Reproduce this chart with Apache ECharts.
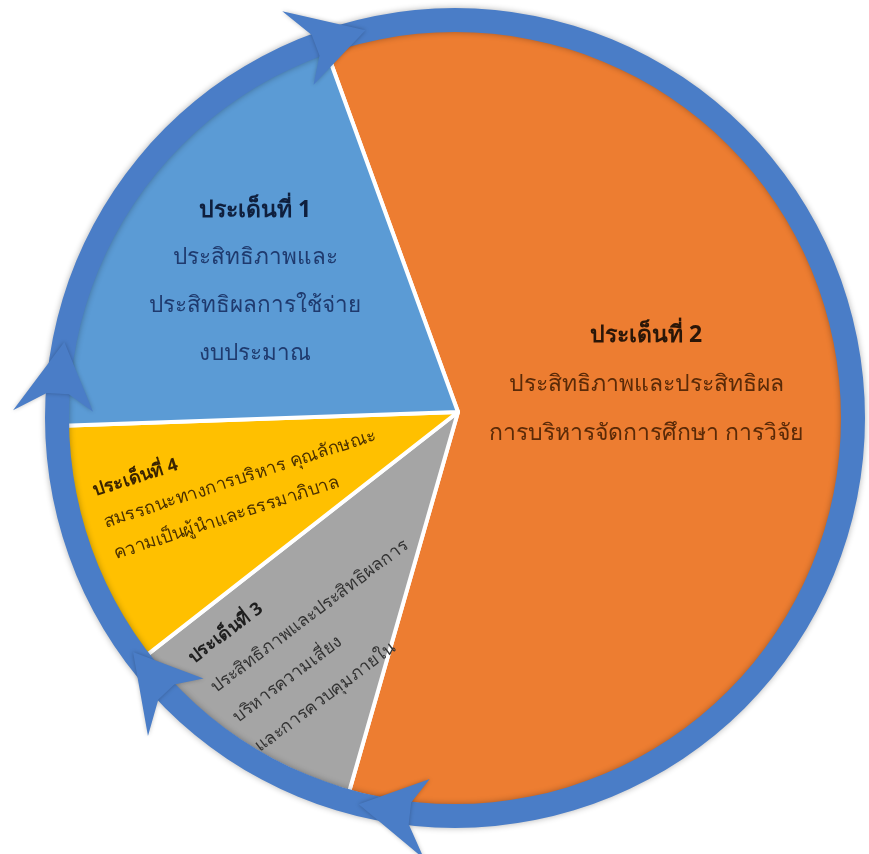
<!DOCTYPE html>
<html><head><meta charset="utf-8">
<script src="https://cdn.jsdelivr.net/npm/echarts/dist/echarts.min.js"></script>
<style>html,body{margin:0;padding:0;background:#fff}#c{width:869px;height:854px}</style>
</head><body><div id="c"></div>
<script>
// Data (clockwise from the top boundary of the orange slice)
const titles = ['ประเด็นที่ 2', 'ประเด็นที่ 3', 'ประเด็นที่ 4', 'ประเด็นที่ 1'];
const descriptions = [
  ['ประสิทธิภาพและประสิทธิผล', 'การบริหารจัดการศึกษา การวิจัย'],
  ['ประสิทธิภาพและประสิทธิผลการ', 'บริหารความเสี่ยง', 'และการควบคุมภายใน'],
  ['สมรรถนะทางการบริหาร คุณลักษณะ', 'ความเป็นผู้นำและธรรมาภิบาล'],
  ['ประสิทธิภาพและ', 'ประสิทธิผลการใช้จ่าย', 'งบประมาณ']
];
const values = [60, 10, 10, 20];
const colors = ['#ed7d31', '#a5a5a5', '#ffc000', '#5b9bd5'];
const titleColors = ['#2a1608', '#1e1e1e', '#3a2400', '#0f1f3d'];
const textColors = ['#5a2a08', '#333333', '#4a3000', '#1f3a6e'];

// label placement (styling, not data)
const layouts = [
  {x: 646, y: 384, rotate: 0, align: 'center', fs: 23, tfs: 23, lh: 49},
  {x: 224, y: 704, rotate: 37, align: 'left', fs: 17.5, tfs: 18, lh: 37},
  {x: 104, y: 523, rotate: 18, align: 'left', fs: 18, tfs: 18, lh: 33},
  {x: 255, y: 282, rotate: 0, align: 'center', fs: 22.5, tfs: 23, lh: 48}
];

const FONT = '"Noto Sans", "DejaVu Sans", sans-serif';

const data = values.map((v, i) => ({
  name: titles[i],
  value: v,
  itemStyle: {color: colors[i]},
  label: {
    formatter: '{t|' + titles[i] + '}\n' + descriptions[i].map(s => '{b|' + s + '}').join('\n'),
    rich: {
      t: {fontSize: layouts[i].tfs, fontWeight: 'bold', color: titleColors[i], lineHeight: layouts[i].lh, fontFamily: FONT, align: layouts[i].align},
      b: {fontSize: layouts[i].fs, color: textColors[i], lineHeight: layouts[i].lh, fontFamily: FONT, align: layouts[i].align}
    }
  }
}));

// ring geometry
const RC = [455, 418], RR = 398;
function pt(a, r) {
  const t = a * Math.PI / 180;
  return [RC[0] + r * Math.sin(t), RC[1] - r * Math.cos(t)];
}
const barbAngles = [337, 271, 224, 184];
const arrows = barbAngles.map(b => ({
  type: 'polygon', z: 101,
  shape: {points: [pt(b + 10, RR), pt(b, RR + 44), pt(b + 2.5, RR + 11), pt(b + 2.5, RR - 11), pt(b, RR - 36)]},
  style: {fill: '#4a7dc7', shadowBlur: 4, shadowColor: 'rgba(0,0,0,0.25)'}
}));

const chart = echarts.init(document.getElementById('c'), null, {renderer: 'canvas'});
chart.setOption({
  animation: false,
  series: [{
    type: 'pie',
    center: [458, 412],
    radius: [0, 395],
    startAngle: 110,
    clockwise: true,
    avoidLabelOverlap: false,
    emphasis: {disabled: true},
    itemStyle: {borderColor: '#ffffff', borderWidth: 4},
    label: {show: true, position: 'inside'},
    labelLine: {show: false},
    labelLayout: function (p) {
      const L = layouts[p.dataIndex];
      return {x: L.x, y: L.y, rotate: L.rotate, align: L.align, verticalAlign: 'middle'};
    },
    data: data
  }],
  graphic: [{
    type: 'ring', z: 100,
    shape: {cx: RC[0], cy: RC[1], r: RR + 12, r0: RR - 12},
    style: {fill: '#4a7dc7', shadowBlur: 6, shadowColor: 'rgba(0,0,0,0.3)'}
  }].concat(arrows)
});
</script>
</body></html>
